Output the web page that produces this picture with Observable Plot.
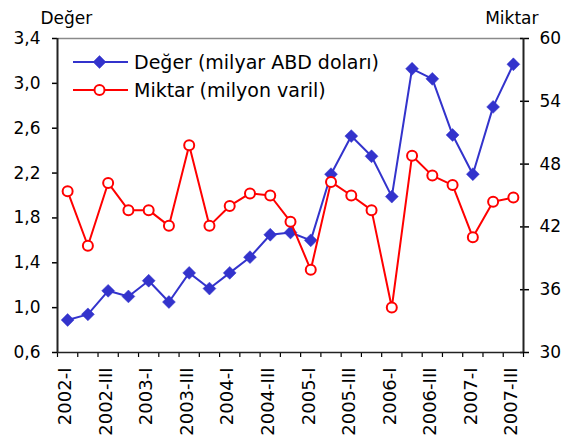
<!DOCTYPE html>
<html>
<head>
<meta charset="utf-8">
<script src="https://cdn.jsdelivr.net/npm/d3@7"></script>
<script src="https://cdn.jsdelivr.net/npm/@observablehq/plot@0.6"></script>
<style>
  html, body { margin: 0; padding: 0; background: #fff; }
  #wrap { position: relative; width: 567px; height: 441px; font-family: "DejaVu Sans", sans-serif; }
  #legend { position: absolute; left: 0; top: 0; pointer-events: none; }
</style>
</head>
<body>
<div id="wrap"></div>
<script>
const quarters = [
  "2002-I","2002-II","2002-III","2002-IV",
  "2003-I","2003-II","2003-III","2003-IV",
  "2004-I","2004-II","2004-III","2004-IV",
  "2005-I","2005-II","2005-III","2005-IV",
  "2006-I","2006-II","2006-III","2006-IV",
  "2007-I","2007-II","2007-III"
];
// Değer (milyar ABD doları) - left axis
const deger = [0.89,0.94,1.15,1.10,1.24,1.05,1.31,1.17,1.31,1.45,1.65,1.67,
               1.60,2.19,2.53,2.35,1.99,3.13,3.04,2.54,2.19,2.79,3.17];
// Miktar (milyon varil) - right axis
const miktar = [45.4,40.2,46.2,43.6,43.6,42.1,49.8,42.1,44.0,45.2,45.0,42.5,
                37.9,46.3,45.0,43.6,34.3,48.8,46.9,46.0,41.0,44.4,44.8];
const leftTicks = [0.6,1.0,1.4,1.8,2.2,2.6,3.0,3.4];
const rightTicks = [30,36,42,48,54,60];
const leftTitle = "Değer";
const rightTitle = "Miktar";
const seriesNames = ["Değer (milyar ABD doları)", "Miktar (milyon varil)"];

const L0 = 0.6, L1 = 3.4, R0 = 30, R1 = 60;
const toLeft = v => L0 + (v - R0) * (L1 - L0) / (R1 - R0);
const fromLeft = v => R0 + (v - L0) * (R1 - R0) / (L1 - L0);

const blue = "#3333cc", red = "#ff0000";
const rows = quarters.map((q, i) => ({i, q, deger: deger[i], miktar: toLeft(miktar[i])}));
const boundaries = d3.range(-0.5, quarters.length, 1);
const labelIdx = d3.range(0, quarters.length, 2);

const chart = Plot.plot({
  width: 567,
  height: 441,
  marginLeft: 57,
  marginRight: 44,
  marginTop: 38,
  marginBottom: 89,
  style: {fontFamily: "DejaVu Sans", fontSize: "17px", color: "#000", background: "#fff"},
  x: {type: "linear", domain: [-0.5, quarters.length - 0.5], label: null},
  y: {domain: [L0, L1], label: null},
  marks: [
    Plot.ruleY([L1], {stroke: "#8a8a8a", strokeWidth: 1.5}),
    Plot.axisY(leftTicks, {anchor: "left", tickSize: 5, tickPadding: 12, strokeWidth: 1.5,
      tickFormat: d => d.toFixed(1).replace(".", ","), label: null}),
    Plot.axisY(rightTicks.map(toLeft), {anchor: "right", tickSize: 9, dx: -4, tickPadding: 11, strokeWidth: 1.5,
      tickFormat: d => String(Math.round(fromLeft(d))), label: null}),
    Plot.axisX(boundaries, {anchor: "bottom", tickSize: 5, strokeWidth: 1.2, tickFormat: () => "", label: null}),
    Plot.axisX(labelIdx, {anchor: "bottom", tickSize: 0, tickRotate: -90, tickPadding: 15, dx: -2,
      fontSize: 18, tickFormat: i => quarters[i], label: null}),
    Plot.ruleX([-0.5], {stroke: "#222", strokeWidth: 2}),
    Plot.ruleX([quarters.length - 0.5], {stroke: "#222", strokeWidth: 2}),
    Plot.ruleY([L0], {stroke: "#222", strokeWidth: 1.5}),
    Plot.line(rows, {x: "i", y: "deger", stroke: blue, strokeWidth: 2}),
    Plot.dot(rows, {x: "i", y: "deger", symbol: "diamond2", r: 5.8, fill: blue, stroke: blue, strokeWidth: 0.5}),
    Plot.line(rows, {x: "i", y: "miktar", stroke: red, strokeWidth: 2}),
    Plot.dot(rows, {x: "i", y: "miktar", r: 5, fill: "#fff", stroke: red, strokeWidth: 2}),
    Plot.text([leftTitle], {frameAnchor: "top-left", textAnchor: "start", lineAnchor: "bottom", dx: -17, dy: -15, fontSize: 17, text: d => d}),
    Plot.text([rightTitle], {frameAnchor: "top-right", textAnchor: "end", lineAnchor: "bottom", dx: 15, dy: -15, fontSize: 17, text: d => d})
  ]
});
const wrap = document.getElementById("wrap");
wrap.appendChild(chart);

// Legend overlay
const lg = d3.select(wrap).append("svg").attr("id", "legend").attr("width", 567).attr("height", 441);
const items = [
  {name: seriesNames[0], color: blue, kind: "diamond", y: 62},
  {name: seriesNames[1], color: red, kind: "circle", y: 90}
];
for (const it of items) {
  const g = lg.append("g");
  g.append("line").attr("x1", 73).attr("x2", 128).attr("y1", it.y).attr("y2", it.y)
    .attr("stroke", it.color).attr("stroke-width", 2);
  if (it.kind === "diamond") {
    g.append("path").attr("d", d3.symbol(d3.symbolDiamond2, Math.PI * 5.8 * 5.8)())
      .attr("transform", `translate(99.5,${it.y})`).attr("fill", it.color).attr("stroke", it.color).attr("stroke-width", 0.5);
  } else {
    g.append("circle").attr("cx", 99.5).attr("cy", it.y).attr("r", 5)
      .attr("fill", "#fff").attr("stroke", it.color).attr("stroke-width", 2);
  }
  g.append("text").attr("x", 134).attr("y", it.y).attr("dy", "0.36em")
    .attr("font-family", "DejaVu Sans").attr("font-size", 19).attr("fill", "#000").text(it.name);
}
</script>
</body>
</html>
